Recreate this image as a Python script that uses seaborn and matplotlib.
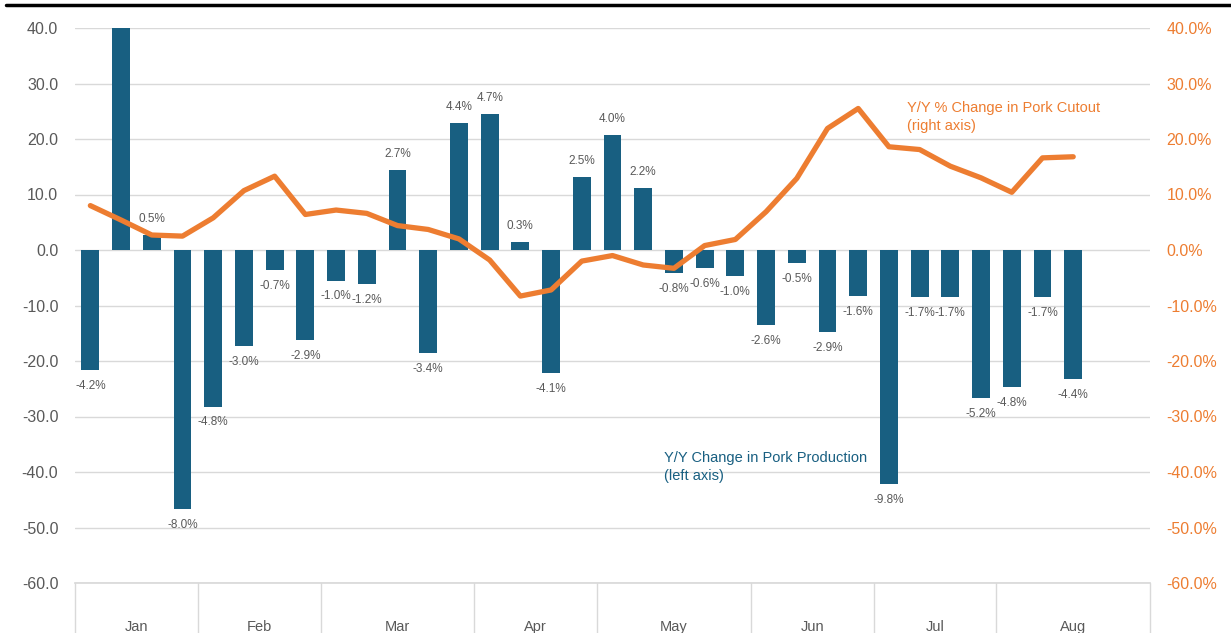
import numpy as np
import pandas as pd
import matplotlib
matplotlib.use("Agg")
import matplotlib.pyplot as plt
import matplotlib.transforms as mtransforms
import seaborn as sns

# Data
months = ["Jan", "Feb", "Mar", "Apr", "May", "Jun", "Jul", "Aug"]
month_slots = [4, 4, 5, 4, 5, 4, 4, 5]

prod_change = [-21.7, 40.0, 2.7, -46.7, -28.2, -17.3, -3.6, -16.2, -5.5, -6.1,
               14.4, -18.5, 22.8, 24.5, 1.4, -22.2, 13.1, 20.8, 11.2, -4.2,
               -3.2, -4.6, -13.6, -2.4, -14.8, -8.3, -42.2, -8.5, -8.5, -26.7,
               -24.7, -8.5, -23.2]
prod_labels = ["-4.2%", "", "0.5%", "-8.0%", "-4.8%", "-3.0%", "-0.7%", "-2.9%",
               "-1.0%", "-1.2%", "2.7%", "-3.4%", "4.4%", "4.7%", "0.3%", "-4.1%",
               "2.5%", "4.0%", "2.2%", "-0.8%", "-0.6%", "-1.0%", "-2.6%", "-0.5%",
               "-2.9%", "-1.6%", "-9.8%", "-1.7%", "-1.7%", "-5.2%", "-4.8%",
               "-1.7%", "-4.4%"]
cutout_change = [8.0, 5.4, 2.7, 2.5, 5.8, 10.7, 13.3, 6.4, 7.2, 6.6, 4.4, 3.7,
                 2.0, -1.8, -8.3, -7.2, -2.0, -1.0, -2.7, -3.3, 0.8, 1.9, 6.9,
                 12.9, 21.9, 25.5, 18.6, 18.1, 15.1, 13.0, 10.4, 16.6, 16.8]

BAR = "#185F81"
ORANGE = "#ED7D31"
GRAY = "#595959"
GRID = "#D9D9D9"

df = pd.DataFrame({"week": np.arange(len(prod_change)),
                   "prod": prod_change,
                   "cutout": cutout_change})

sns.set_theme(style="white")
plt.rcParams["font.family"] = ["Liberation Sans", "DejaVu Sans"]

W, H = 1231, 633
fig = plt.figure(figsize=(W / 100, H / 100), dpi=100)
ax = fig.add_axes([75 / W, 1 - 583 / H, (1150 - 75) / W, (583 - 28) / H])

sns.barplot(data=df, x="week", y="prod", color=BAR, width=0.58,
            saturation=1, edgecolor="none", ax=ax, zorder=2)
n_slots = sum(month_slots)
ax.set_xlim(-0.5, n_slots - 0.5)
ax.set_ylim(-60, 40)
ax.set_yticks(np.arange(-60, 41, 10))
ax.set_yticklabels([f"{v:.1f}" for v in np.arange(-60, 41, 10)], color=GRAY, fontsize=11.5)
ax.tick_params(axis="y", length=0, pad=12)
ax.set_xticks([])
ax.set_xlabel("")
ax.set_ylabel("")
ax.grid(axis="y", color=GRID, lw=1, zorder=0)
ax.set_axisbelow(True)
for s in ["top", "left", "right"]:
    ax.spines[s].set_visible(False)
ax.spines["bottom"].set_color(GRID)

# data labels
for i, (v, lab) in enumerate(zip(prod_change, prod_labels)):
    if not lab:
        continue
    off = 11.5 if v >= 0 else -11.5
    ax.annotate(lab, (i, v), xytext=(0, off), textcoords="offset points",
                ha="center", va="center", fontsize=8.5, color=GRAY)

# month axis with separators
trans = mtransforms.blended_transform_factory(ax.transData, ax.transAxes)
edges = np.concatenate([[0], np.cumsum(month_slots)]) - 0.5
for e in edges:
    ax.plot([e, e], [0, -0.1], transform=trans, color=GRID, lw=1, clip_on=False)
for m, a, b in zip(months, edges[:-1], edges[1:]):
    ax.annotate(m, ((a + b) / 2, 0), xycoords=trans, xytext=(0, -32),
                textcoords="offset points", ha="center", va="center",
                fontsize=10.5, color=GRAY, annotation_clip=False)

# right axis line
ax2 = ax.twinx()
sns.lineplot(data=df, x="week", y="cutout", color=ORANGE, lw=3.8, ax=ax2,
             solid_capstyle="round", solid_joinstyle="round")
ax2.set_ylim(-60, 40)
ax2.set_xlim(-0.5, n_slots - 0.5)
ax2.set_yticks(np.arange(-60, 41, 10))
ax2.set_yticklabels([f"{v:.1f}%" for v in np.arange(-60, 41, 10)], color=ORANGE, fontsize=11.5)
ax2.tick_params(axis="y", length=0, pad=12)
ax2.set_ylabel("")
for s in ax2.spines.values():
    s.set_visible(False)

# series annotations
fig.text(907 / W, 1 - 117 / H, "Y/Y % Change in Pork Cutout\n(right axis)",
         color=ORANGE, fontsize=10.5, ha="left", va="center", linespacing=1.35)
fig.text(664 / W, 1 - 467 / H, "Y/Y Change in Pork Production\n(left axis)",
         color=BAR, fontsize=10.5, ha="left", va="center", linespacing=1.35)

# top rule
fig.add_artist(plt.Line2D([6 / W, 1], [1 - 5 / H, 1 - 5 / H], color="black", lw=2.5))

fig.savefig("out.png", dpi=100)
